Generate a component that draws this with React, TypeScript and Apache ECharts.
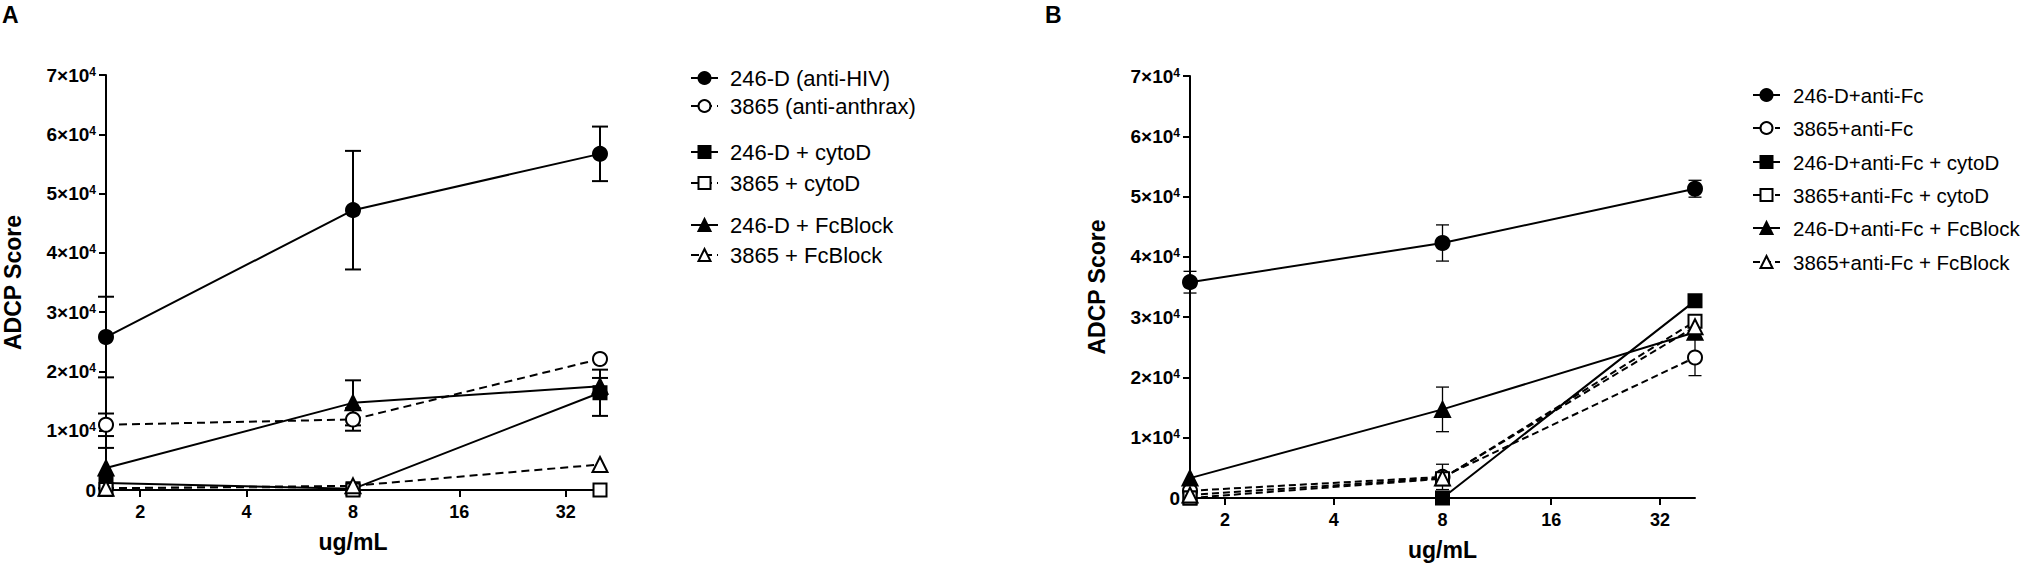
import React, { useEffect, useRef } from 'react';
import * as echarts from 'echarts';

// ---------------- data ----------------
const concentrations = [1.6, 8, 40];
const xTickValues = [2, 4, 8, 16, 32];
const yMax = 70000;
const yStep = 10000;

// Panel A
const namesA = [
  '246-D (anti-HIV)',
  '3865 (anti-anthrax)',
  '246-D + cytoD',
  '3865 + cytoD',
  '246-D + FcBlock',
  '3865 + FcBlock',
];
const a246D = [25800, 47200, 56700];
const a246DErr = [6800, 10000, 4600];
const a3865 = [11000, 11900, 22100];
const a3865Err = [1900, 1900, 0];
const a246DCyto = [1200, 200, 16400];
const a246DCytoErr = [0, 0, 3900];
const a3865Cyto = [100, 0, 0];
const a3865CytoErr = [0, 0, 0];
const a246DFc = [3700, 14700, 17500];
const a246DFcErr = [3400, 3800, 1400];
const a3865Fc = [300, 700, 4300];
const a3865FcErr = [0, 0, 0];

// Panel B
const namesB = [
  '246-D+anti-Fc',
  '3865+anti-Fc',
  '246-D+anti-Fc + cytoD',
  '3865+anti-Fc + cytoD',
  '246-D+anti-Fc + FcBlock',
  '3865+anti-Fc + FcBlock',
];
const b246D = [35800, 42300, 51300];
const b246DErr = [1800, 3000, 1400];
const b3865 = [1200, 3500, 23300];
const b3865Err = [0, 2100, 3000];
const b246DCyto = [0, 0, 32700];
const b246DCytoErr = [0, 0, 700];
const b3865Cyto = [0, 3200, 29300];
const b3865CytoErr = [0, 0, 900];
const b246DFc = [3300, 14700, 27500];
const b246DFcErr = [0, 3700, 900];
const b3865Fc = [500, 3300, 28400];
const b3865FcErr = [0, 0, 0];

const valuesA = [a246D, a3865, a246DCyto, a3865Cyto, a246DFc, a3865Fc];
const errorsA = [a246DErr, a3865Err, a246DCytoErr, a3865CytoErr, a246DFcErr, a3865FcErr];
const valuesB = [b246D, b3865, b246DCyto, b3865Cyto, b246DFc, b3865Fc];
const errorsB = [b246DErr, b3865Err, b246DCytoErr, b3865CytoErr, b246DFcErr, b3865FcErr];

// ---------------- styles ----------------
const symbols = ['circle', 'emptyCircle', 'rect', 'emptyRect', 'triangle', 'emptyTriangle'];
const symbolSizes = [14, 14, 13, 13, 15, 15];
const dashed = [false, true, false, true, false, true];
const FONT = 'Liberation Sans, Arial, Helvetica, sans-serif';

const legendRowsA = [78, 106, 152, 183, 225, 255];
const legendRowsB = [95, 128, 162, 195, 228, 262];

function yLabel(v: number) {
  if (v === 0) return '{n|0}';
  return `{n|${Math.round(v / 10000)}×10}{s|4}`;
}

function buildAxes(gridIndex: number) {
  const xAxis = {
    type: 'log',
    logBase: 2,
    gridIndex,
    min: concentrations[0],
    max: concentrations[concentrations.length - 1],
    name: 'ug/mL',
    nameLocation: 'middle',
    nameGap: 40,
    nameTextStyle: { fontFamily: FONT, fontSize: 23, fontWeight: 'bold', color: '#000' },
    axisLine: { show: true, lineStyle: { color: '#000', width: 2 } },
    axisTick: { show: true, length: 7, lineStyle: { color: '#000', width: 2 }, customValues: xTickValues },
    axisLabel: {
      customValues: xTickValues,
      margin: 13,
      fontFamily: FONT,
      fontSize: 18,
      fontWeight: 'bold',
      color: '#000',
      formatter: (v: number) => String(Math.round(v)),
    },
    splitLine: { show: false },
    minorTick: { show: false },
  };
  const yAxis = {
    type: 'value',
    gridIndex,
    min: 0,
    max: yMax,
    interval: yStep,
    name: 'ADCP Score',
    nameLocation: 'middle',
    nameGap: 82,
    nameTextStyle: { fontFamily: FONT, fontSize: 23, fontWeight: 'bold', color: '#000' },
    axisLine: { show: true, lineStyle: { color: '#000', width: 2 } },
    axisTick: { show: true, length: 7, lineStyle: { color: '#000', width: 2 } },
    axisLabel: {
      margin: 10,
      formatter: yLabel,
      rich: {
        n: { fontFamily: FONT, fontSize: 19, fontWeight: 'bold', color: '#000' },
        s: { fontFamily: FONT, fontSize: 12, fontWeight: 'bold', color: '#000', verticalAlign: 'top' },
      },
    },
    splitLine: { show: false },
  };
  return { xAxis, yAxis };
}

function buildSeries(
  names: string[],
  values: number[][],
  errors: number[][],
  axisIndex: number,
  capHalf: number,
  errWidth: number,
  dash: number[]
) {
  const out: any[] = [];
  const errData: number[][] = [];
  values.forEach((vals, i) => {
    vals.forEach((v, j) => {
      if (errors[i][j] > 0) errData.push([concentrations[j], v, errors[i][j]]);
    });
  });
  out.push({
    type: 'custom',
    name: 'err' + axisIndex,
    xAxisIndex: axisIndex,
    yAxisIndex: axisIndex,
    z: 1,
    clip: false,
    silent: true,
    encode: { x: 0, y: 1 },
    data: errData,
    renderItem: (_params: any, api: any) => {
      const x = api.value(0);
      const y = api.value(1);
      const e = api.value(2);
      const top = api.coord([x, y + e]);
      const bot = api.coord([x, Math.max(0, y - e)]);
      const st = { stroke: '#000', lineWidth: errWidth };
      return {
        type: 'group',
        children: [
          { type: 'line', shape: { x1: top[0], y1: top[1], x2: bot[0], y2: bot[1] }, style: st },
          { type: 'line', shape: { x1: top[0] - capHalf, y1: top[1], x2: top[0] + capHalf, y2: top[1] }, style: st },
          { type: 'line', shape: { x1: bot[0] - capHalf, y1: bot[1], x2: bot[0] + capHalf, y2: bot[1] }, style: st },
        ],
      };
    },
  });
  names.forEach((name, i) => {
    out.push({
      type: 'line',
      name,
      xAxisIndex: axisIndex,
      yAxisIndex: axisIndex,
      z: 3,
      clip: false,
      symbol: symbols[i],
      symbolSize: symbolSizes[i],
      showAllSymbol: true,
      data: values[i].map((v, j) => [concentrations[j], v]),
      lineStyle: { color: '#000', width: 2, type: dashed[i] ? dash : 'solid' },
      itemStyle: { color: '#000', borderColor: '#000', borderWidth: 2 },
      emphasis: { disabled: true },
    });
  });
  return out;
}

function buildLegends(names: string[], rows: number[], left: number, textPad: number, fontSize: number) {
  return names.map((n, i) => ({
    data: [n],
    left,
    top: rows[i] - 12,
    orient: 'vertical',
    padding: 0,
    itemWidth: 27,
    itemHeight: 15,
    selectedMode: false,
    textStyle: {
      fontFamily: FONT,
      fontSize,
      lineHeight: 24,
      color: '#000',
      padding: [0, 0, 0, textPad],
    },
  }));
}

export default function App() {
  const ref = useRef<HTMLDivElement>(null);
  useEffect(() => {
    if (!ref.current) return;
    const chart = echarts.init(ref.current, undefined, { renderer: 'svg' });
    const axA = buildAxes(0);
    const axB = buildAxes(1);
    const option: any = {
      animation: false,
      backgroundColor: '#fff',
      grid: [
        { left: 101, top: 75, width: 499, height: 415 },
        { left: 1190, top: 76, width: 505, height: 422 },
      ],
      xAxis: [axA.xAxis, axB.xAxis],
      yAxis: [axA.yAxis, axB.yAxis],
      legend: [
        ...buildLegends(namesA, legendRowsA, 690, 7, 22),
        ...buildLegends(namesB, legendRowsB, 1752, 8, 20.5),
      ],
      graphic: [
        { type: 'text', left: 2, top: 3, style: { text: 'A', fontFamily: FONT, fontSize: 23, fontWeight: 'bold', fill: '#000' } },
        { type: 'text', left: 1045, top: 3, style: { text: 'B', fontFamily: FONT, fontSize: 23, fontWeight: 'bold', fill: '#000' } },
      ],
      series: [
        ...buildSeries(namesA, valuesA, errorsA, 0, 8, 2, [8, 5]),
        ...buildSeries(namesB, valuesB, errorsB, 1, 6.5, 1.3, [7, 4]),
      ],
    };
    chart.setOption(option);
    return () => chart.dispose();
  }, []);
  return (
    <div
      ref={ref}
      style={{ position: 'absolute', left: 0, top: 0, width: 2028, height: 566, background: '#fff' }}
    />
  );
}
